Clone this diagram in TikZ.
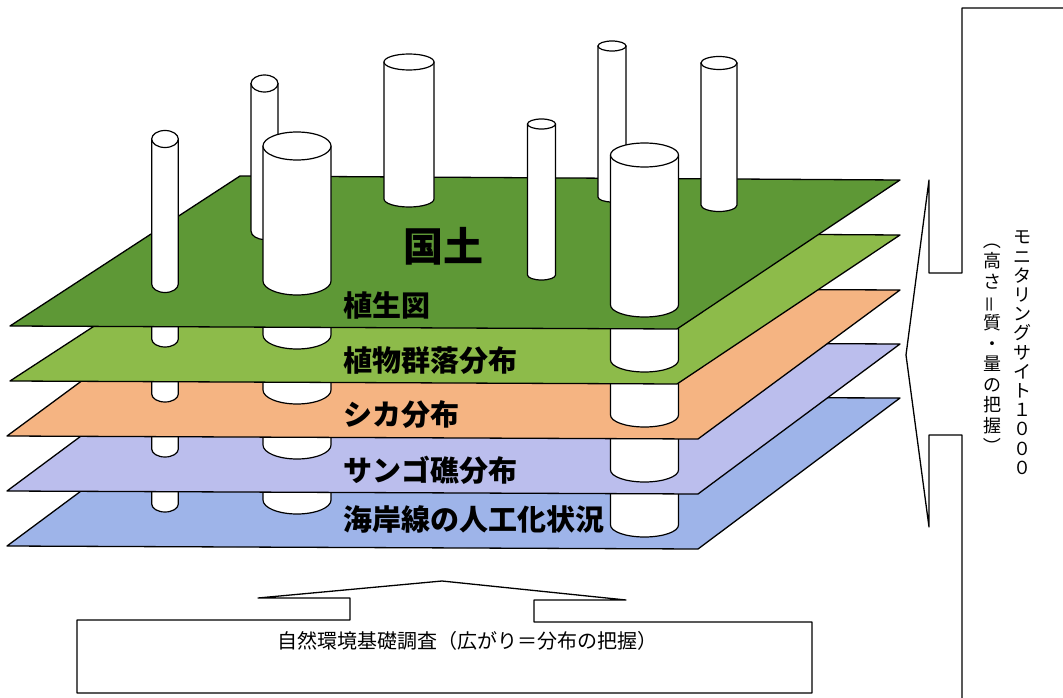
\documentclass[tikz,border=0pt]{standalone}
\usepackage{fontspec}
\setmainfont{Noto Sans CJK JP}
\definecolor{gA}{RGB}{94,152,54}
\definecolor{gB}{RGB}{141,187,74}
\definecolor{orB}{RGB}{245,180,130}
\definecolor{lvB}{RGB}{187,190,237}
\definecolor{blB}{RGB}{158,180,233}
\tikzset{
  outl/.style={draw=black, line width=1.3pt, line join=round},
  cylst/.style={fill=white, draw=black, line width=1.2pt, line join=round},
  lbl/.style={anchor=west, inner sep=0pt, font=\fontsize{29}{30}\selectfont\bfseries},
  vtxt/.style={align=center, inner sep=0pt, anchor=north, font=\fontsize{18}{19.2}\selectfont},
  vtxtb/.style={align=center, inner sep=0pt, anchor=north, font=\fontsize{18}{20.6}\selectfont},
}
\newcommand\mycyl[5]{%
  \path[cylst] (#1-#2,#4) -- (#1-#2,#5) arc[start angle=180,end angle=360,x radius=#2pt,y radius=#3pt] -- (#1+#2,#4) -- cycle;
  \path[cylst] (#1,#4) ellipse[x radius=#2pt, y radius=#3pt];
}
\newcommand\mystub[4]{%
  \path[cylst] (#1-#2,#4-45) -- (#1-#2,#4) arc[start angle=180,end angle=360,x radius=#2pt,y radius=#3pt] -- (#1+#2,#4-45) -- cycle;
}
\begin{document}
\begin{tikzpicture}[x=1pt,y=-1pt]
\useasboundingbox (0,0) rectangle (1063,698);
\fill[white] (0,0) rectangle (1063,698);
% plane 5 (blue)
\path[outl, fill=blB] (7,546) -- (698,549) -- (900,398) -- (209,396) -- cycle;
\mystub{165}{13.3}{8}{504}
\mystub{297}{34}{14}{500}
\mystub{644.5}{34}{12}{525}
% plane 4 (lavender)
\path[outl, fill=lvB] (7,491) -- (698,494) -- (900,344) -- (209,341) -- cycle;
\mystub{165}{13.3}{8}{449}
\mystub{297}{34}{14}{445}
\mystub{644.5}{34}{12}{470}
% plane 3 (orange)
\path[outl, fill=orB] (7,436) -- (698,439) -- (900,290) -- (209,287) -- cycle;
\mystub{165}{13.3}{8}{394}
\mystub{297}{34}{14}{390}
\mystub{644.5}{34}{12}{415}
% plane 2 (light green)
\path[outl, fill=gB] (10,381) -- (677,384) -- (900,235) -- (240,231) -- cycle;
\mystub{165}{13.3}{8}{339}
\mystub{297}{34}{14}{335}
\mystub{644.5}{34}{12}{360}
% plane 1 (green)
\path[outl, fill=gA] (10,326) -- (677,329) -- (900,180) -- (240,176) -- cycle;
% cylinders on top
\mycyl{165}{13.3}{8.5}{139}{284}
\mycyl{264.5}{13.5}{8.5}{83.5}{231}
\mycyl{297}{34}{14}{146}{281}
\mycyl{409}{25}{8}{62}{199}
\mycyl{541.5}{14}{5}{124}{275}
\mycyl{612}{14}{5}{46}{197}
\mycyl{644.5}{34}{12}{155}{305}
\mycyl{719}{18}{6.5}{63}{205}
% labels
\node[font=\fontsize{40}{40}\selectfont\bfseries, inner sep=0pt] (kokudo) at (443,246) {国土};
\node[lbl] (l1) at (343,306) {植生図};
\node[lbl] (l2) at (343,361) {植物群落分布};
\node[lbl] (l3) at (343,415) {シカ分布};
\node[lbl] (l4) at (343,470) {サンゴ礁分布};
\node[lbl] (l5) at (343,519) {海岸線の人工化状況};
% bottom box with arrow
\path[outl, fill=white] (77,620) -- (350,620) -- (350,598) -- (258,598) -- (442,581) -- (626,600) -- (534,600) -- (534,622) -- (812,622) -- (812,693) -- (77,693) -- cycle;
\node[font=\fontsize{20}{20}\selectfont, inner sep=0pt] (survey) at (467,641) {自然環境基礎調査（広がり＝分布の把握）};
% right box with arrow
\path[outl] (1063,8) -- (962,8) -- (962,273) -- (929,273) -- (929,180) -- (906,355) -- (929,527) -- (929,435) -- (962,435) -- (962,698);
\node[vtxt] (mon) at (1022,231) {モ\\ニ\\タ\\リ\\ン\\グ\\サ\\イ\\ト\\１\\０\\０\\０};
\node[vtxtb] (qual) at (992,231) {\rotatebox[origin=c]{-90}{（}\\高\\さ\\\rotatebox[origin=c]{90}{＝}\\質\\・\\量\\の\\把\\握\\\rotatebox[origin=c]{-90}{）}};
\end{tikzpicture}
\end{document}
